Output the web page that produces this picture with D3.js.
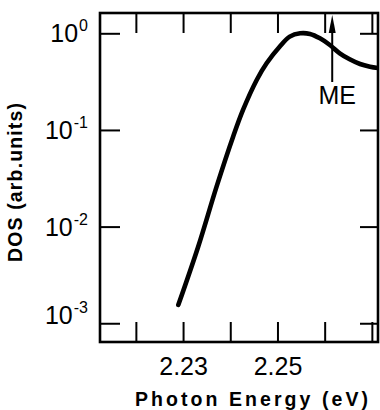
<!DOCTYPE html>
<html>
<head>
<meta charset="utf-8">
<script src="https://cdn.jsdelivr.net/npm/d3@7"></script>
<style>
  html, body { margin: 0; padding: 0; background: #fff; }
  svg { display: block; }
</style>
</head>
<body>
<svg id="chart" width="380" height="410"></svg>
<script>
// ---- data ----
const energy = [2.2290, 2.2332, 2.2371, 2.2406, 2.2427, 2.2456, 2.2477, 2.2505, 2.2526,
                2.2548, 2.2569, 2.2590, 2.2611, 2.2632, 2.2653, 2.2675, 2.2696, 2.2717];
const dos    = [0.00155, 0.00619, 0.0259, 0.0851, 0.161, 0.329, 0.490, 0.730, 0.923,
                1.000, 0.984, 0.887, 0.757, 0.621, 0.538, 0.481, 0.452, 0.435];
const xTicks = [2.22, 2.23, 2.24, 2.25, 2.26, 2.27];
const xTickLabels = ["", "2.23", "", "2.25", "", ""];
const yTicks = [1, 0.1, 0.01, 0.001];
const yTickExponents = ["0", "-1", "-2", "-3"];
const markerEnergy = 2.2616;
const markerLabel = "ME";
const xTitle = "Photon Energy (eV)";
const yTitle = "DOS (arb.units)";

// ---- layout ----
const L = 100, R = 378, T = 13, B = 342;
const svg = d3.select("#chart");
const x = d3.scaleLinear().domain([2.2124, 2.2713]).range([L, R]);
const y = d3.scaleLog().domain([Math.pow(10, 0.21), Math.pow(10, -3.194)]).range([T, B]);

const font = "'Liberation Sans', Arial, Helvetica, sans-serif";

// clip for curve
svg.append("clipPath").attr("id", "clip")
  .append("rect").attr("x", L).attr("y", T).attr("width", R - L).attr("height", B - T);

// curve
const pts = energy.map((e, i) => [e, dos[i]]);
const line = d3.line().x(d => x(d[0])).y(d => y(d[1])).curve(d3.curveCatmullRom.alpha(0.5));
svg.append("path").datum(pts)
  .attr("d", line)
  .attr("fill", "none").attr("stroke", "#000").attr("stroke-width", 4.6)
  .attr("stroke-linecap", "round").attr("stroke-linejoin", "round")
  .attr("clip-path", "url(#clip)");

// axes (ticks inward)
const tickLen = 20;
const gBottom = svg.append("g").attr("transform", `translate(0,${B})`)
  .call(d3.axisBottom(x).tickValues(xTicks).tickSizeInner(-tickLen).tickSizeOuter(0)
        .tickFormat((d, i) => xTickLabels[i]).tickPadding(15));
const gTop = svg.append("g").attr("transform", `translate(0,${T})`)
  .call(d3.axisTop(x).tickValues(xTicks).tickSizeInner(-tickLen).tickSizeOuter(0).tickFormat(""));
const gLeft = svg.append("g").attr("transform", `translate(${L},0)`)
  .call(d3.axisLeft(y).tickValues(yTicks).tickSizeInner(-tickLen).tickSizeOuter(0).tickFormat(""));
const gRight = svg.append("g").attr("transform", `translate(${R},0)`)
  .call(d3.axisRight(y).tickValues(yTicks).tickSizeInner(-18).tickSizeOuter(0).tickFormat(""));

[gBottom, gTop, gLeft, gRight].forEach(g => {
  g.select(".domain").remove();
  g.selectAll(".tick line").attr("stroke", "#000").attr("stroke-width", 2);
});
gBottom.selectAll(".tick text")
  .attr("font-family", font).attr("font-size", 25).attr("fill", "#000")
  .attr("dy", "0.71em");

// frame
svg.append("rect").attr("x", L).attr("y", T).attr("width", R - L).attr("height", B - T)
  .attr("fill", "none").attr("stroke", "#000").attr("stroke-width", 2.6);

// y tick labels 10^n
yTicks.forEach((v, i) => {
  const ty = y(v) + 9 - (i === yTicks.length - 1 ? 8 : 0);
  const t = svg.append("text")
    .attr("x", 88).attr("y", ty)
    .attr("text-anchor", "end")
    .attr("font-family", font).attr("font-size", 25).attr("fill", "#000");
  t.append("tspan").text("10");
  t.append("tspan").attr("dy", -11).attr("dx", 1).attr("font-size", 16).text(yTickExponents[i]);
});

// ME marker arrow
const mx = x(markerEnergy);
svg.append("line").attr("x1", mx).attr("x2", mx).attr("y1", 82).attr("y2", 30)
  .attr("stroke", "#000").attr("stroke-width", 2);
svg.append("path")
  .attr("d", `M${mx},15 L${mx - 3.5},33 L${mx + 3.5},33 Z`)
  .attr("fill", "#000");
svg.append("text").attr("x", mx + 5).attr("y", 103.5)
  .attr("text-anchor", "middle")
  .attr("font-family", font).attr("font-size", 25).attr("fill", "#000")
  .text(markerLabel);

// axis titles
svg.append("text").attr("x", 251.5).attr("y", 406)
  .attr("text-anchor", "middle")
  .attr("font-family", font).attr("font-weight", "bold").attr("font-size", 19.5)
  .attr("textLength", 233).attr("lengthAdjust", "spacing")
  .attr("fill", "#000").text(xTitle);
svg.append("text")
  .attr("transform", `translate(22,182.5) rotate(-90)`)
  .attr("text-anchor", "middle")
  .attr("font-family", font).attr("font-weight", "bold").attr("font-size", 19.5)
  .attr("textLength", 159).attr("lengthAdjust", "spacing")
  .attr("fill", "#000").text(yTitle);
</script>
</body>
</html>
